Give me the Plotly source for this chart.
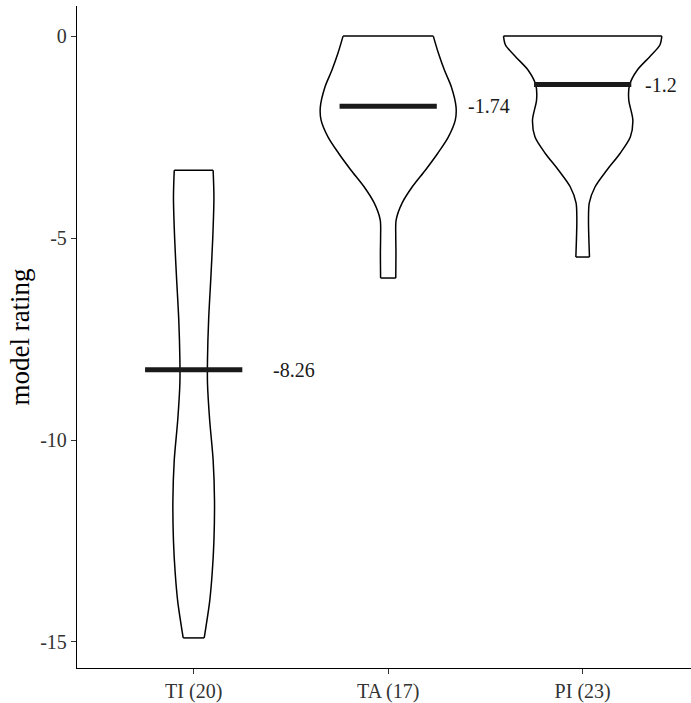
import plotly.graph_objects as go

# ---- data ----
categories = ["TI (20)", "TA (17)", "PI (23)"]
medians = [-8.26, -1.74, -1.2]
median_labels = ["-8.26", "-1.74", "-1.2"]

# violin outlines: rating value and half-width (in category units)
ti_y = [-3.32, -4.0, -5.0, -6.0, -7.0, -8.0, -8.6, -9.5, -10.5, -11.5, -12.5, -13.3, -14.0, -14.9]
ti_w = [0.100, 0.104, 0.098, 0.088, 0.077, 0.071, 0.071, 0.082, 0.100, 0.107, 0.104, 0.095, 0.082, 0.054]

ta_y = [0.0, -0.42, -0.84, -1.26, -1.76, -2.08, -2.5, -2.9, -3.32, -3.73, -4.13, -4.55, -4.97, -5.37, -5.99]
ta_w = [0.232, 0.258, 0.289, 0.325, 0.349, 0.345, 0.309, 0.255, 0.191, 0.124, 0.072, 0.041, 0.039, 0.040, 0.039]

pi_y = [0.0, -0.22, -0.51, -0.84, -1.21, -1.58, -2.08, -2.5, -2.9, -3.32, -3.73, -4.13, -4.55, -5.47]
pi_w = [0.407, 0.397, 0.345, 0.281, 0.241, 0.237, 0.258, 0.245, 0.193, 0.124, 0.064, 0.034, 0.030, 0.035]

profiles = [(ti_y, ti_w), (ta_y, ta_w), (pi_y, pi_w)]
label_offsets = [0.40, 0.40, 0.31]
bar_half = 0.25

FONT = "Liberation Serif"

fig = go.Figure()

for i, (ys, ws) in enumerate(profiles):
    c = i + 1
    left_x = [c - w for w in ws]
    right_x = [c + w for w in ws]
    # sides as smooth curves, top/bottom flat edges
    xs = left_x + [None] + right_x + [None] + [left_x[0], right_x[0]] + [None] + [left_x[-1], right_x[-1]]
    yy = ys + [None] + ys + [None] + [ys[0], ys[0]] + [None] + [ys[-1], ys[-1]]
    fig.add_trace(go.Scatter(
        x=xs, y=yy, mode="lines",
        line=dict(color="black", width=1.5, shape="spline", smoothing=0.8),
        connectgaps=False, showlegend=False, hoverinfo="skip"))

for i, m in enumerate(medians):
    c = i + 1
    fig.add_trace(go.Scatter(
        x=[c - bar_half, c + bar_half], y=[m, m], mode="lines",
        line=dict(color="#1a1a1a", width=5),
        showlegend=False, hoverinfo="skip"))
    fig.add_annotation(
        x=c + label_offsets[i], y=m, text=median_labels[i],
        xanchor="left", yanchor="middle", showarrow=False,
        font=dict(family=FONT, size=20, color="#1a1a1a"))

fig.update_layout(
    width=691, height=703,
    margin=dict(l=77, r=0, t=6, b=35),
    plot_bgcolor="white", paper_bgcolor="white",
    font=dict(family=FONT, size=20, color="#333333"),
    xaxis=dict(
        range=[0.4, 3.557], tickvals=[1, 2, 3], ticktext=categories,
        showline=True, linecolor="black", linewidth=1.3,
        ticks="outside", ticklen=5, tickcolor="#333333", tickwidth=1.3,
        showgrid=False, zeroline=False,
        tickfont=dict(family=FONT, size=20, color="#333333")),
    yaxis=dict(
        range=[-15.645, 0.745], tickvals=[0, -5, -10, -15], ticktext=["0", "-5", "-10", "-15"],
        showline=True, linecolor="black", linewidth=1.3,
        ticks="outside", ticklen=5, tickcolor="#333333", tickwidth=1.3,
        showgrid=False, zeroline=False,
        tickfont=dict(family=FONT, size=20, color="#333333"),
        title=dict(text="model rating", standoff=2,
                   font=dict(family=FONT, size=27, color="black"))),
)

fig.write_html("out.html")
